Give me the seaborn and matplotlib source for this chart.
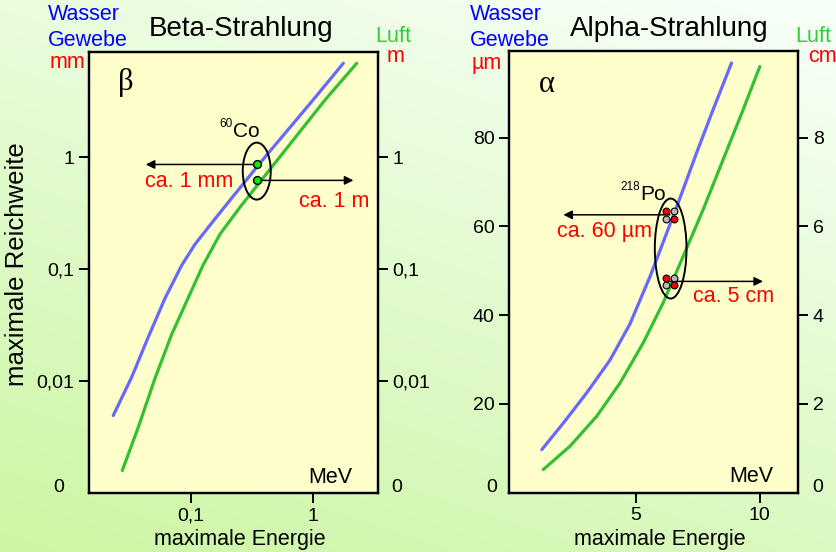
import numpy as np
import matplotlib
matplotlib.use("Agg")
import matplotlib.pyplot as plt
import matplotlib.transforms as mtransforms
from matplotlib.patches import Ellipse
from matplotlib.ticker import NullLocator
import seaborn as sns

# ------------------------------------------------------------------
# DATA
# ------------------------------------------------------------------
# Beta: maximale Reichweite vs. maximale Energie (log-log)
beta_water_energy = [0.02298, 0.03256, 0.04458, 0.06113, 0.08387, 0.1079, 0.1432,
                     0.2092, 0.3810, 0.6510, 1.006, 1.784]
beta_water_range_mm = [0.004923, 0.01083, 0.02470, 0.05480, 0.1081, 0.1667, 0.2465,
                       0.4124, 0.9228, 1.844, 3.236, 6.888]
beta_air_energy = [0.02725, 0.03690, 0.05060, 0.06942, 0.09448, 0.1255, 0.1730,
                   0.2528, 0.3904, 0.6510, 1.262, 2.299]
beta_air_range_m = [0.001587, 0.003871, 0.01055, 0.02611, 0.05480, 0.1081, 0.2048,
                    0.3571, 0.6490, 1.307, 3.236, 6.888]

# Alpha: linear axes
alpha_water_energy = [1.22, 2.09, 3.03, 3.97, 4.77, 5.58, 6.25, 6.78, 7.45, 8.12, 8.86]
alpha_water_range_um = [9.7, 15.7, 22.5, 29.9, 38.0, 48.7, 58.5, 66.3, 76.5, 86.3, 96.8]
alpha_air_energy = [1.28, 2.36, 3.43, 4.37, 5.31, 6.11, 6.91, 7.72, 8.52, 9.33, 10.0]
alpha_air_range_cm = [0.52, 1.05, 1.72, 2.47, 3.38, 4.28, 5.32, 6.38, 7.50, 8.63, 9.60]

# example nuclides
co60_energy = 0.347
co60_water_mm = 0.86
co60_air_m = 0.62
po218_energy = 6.38
po218_water_um = 62.6
po218_air_cm = 4.76

beta_ticks = [0.01, 0.1, 1]
beta_ticklabels = ["0,01", "0,1", "1"]
beta_xticks = [0.1, 1]
beta_xticklabels = ["0,1", "1"]
alpha_left_ticks = [20, 40, 60, 80]
alpha_right_ticks = [2, 4, 6, 8]
alpha_xticks = [5, 10]

# ------------------------------------------------------------------
# STYLE
# ------------------------------------------------------------------
sns.set_style("ticks", {"axes.edgecolor": "black", "text.color": "black",
                        "xtick.color": "black", "ytick.color": "black"})
plt.rcParams["font.family"] = ["Liberation Sans", "DejaVu Sans"]

BLUE_LINE = "#6868ff"
GREEN_LINE = "#33c033"
BLUE_TXT = "#0000ff"
RED_TXT = "#ff0000"
GREEN_TXT = "#33cc33"
PANEL = "#ffffcc"

W, H = 836, 552
fig = plt.figure(figsize=(W / 100, H / 100), dpi=100)


def fx(px):
    return px / W


def fy(py):
    return 1 - py / H


def to_axes(ax, x, y):
    return ax.transAxes.inverted().transform(ax.transData.transform((x, y)))


# gradient background
bg = fig.add_axes([0, 0, 1, 1], zorder=-10)
gx, gy = np.meshgrid(np.linspace(0, 1, 200), np.linspace(1, 0, 200))
t = np.clip(0.7 * gy + 0.35 * gx, 0, 1)
c0 = np.array([0.80, 0.965, 0.64])
c1 = np.array([0.965, 1.0, 0.965])
bg.imshow(c0 + (c1 - c0) * t[..., None], aspect="auto", extent=[0, 1, 0, 1])
bg.axis("off")


def style_axes(ax, ax2):
    ax.set_facecolor(PANEL)
    for a in (ax, ax2):
        for s in a.spines.values():
            s.set_linewidth(1.6)
        a.tick_params(which="major", direction="out", length=7, width=1.4,
                      labelsize=14, pad=3.5, color="black")
        a.yaxis.set_minor_locator(NullLocator())
    ax.xaxis.set_minor_locator(NullLocator())
    ax.tick_params(axis="y", left=True, right=False)
    ax2.tick_params(axis="y", right=True, left=False)
    ax.set_xlabel("")
    ax.set_ylabel("")
    ax2.set_ylabel("")


arrow = dict(arrowstyle="-|>", color="black", lw=1.1, mutation_scale=13, shrinkA=0, shrinkB=0)

# ------------------------------------------------------------------
# BETA PANEL
# ------------------------------------------------------------------
axb = fig.add_axes([fx(89), fy(493), fx(378) - fx(89), (493 - 52) / H])
axb2 = axb.twinx()
for a in (axb, axb2):
    a.set_xscale("log")
    a.set_yscale("log")

sns.lineplot(x=beta_water_energy, y=beta_water_range_mm, ax=axb, color=BLUE_LINE, lw=2.3)
sns.lineplot(x=beta_air_energy, y=beta_air_range_m, ax=axb2, color=GREEN_LINE, lw=2.3)

for a in (axb, axb2):
    a.set_xlim(0.01452, 3.44)
    a.set_ylim(0.001, 8.69)
    a.set_yticks(beta_ticks)
    a.set_yticklabels(beta_ticklabels)
axb.set_xticks(beta_xticks)
axb.set_xticklabels(beta_xticklabels)
style_axes(axb, axb2)

# 60Co
axb.annotate("", xy=(0.0425, co60_water_mm), xytext=(co60_energy, co60_water_mm),
             arrowprops=arrow, zorder=4)
axb2.annotate("", xy=(2.16, co60_air_m), xytext=(co60_energy, co60_air_m),
              arrowprops=arrow, zorder=4)
axb.scatter([co60_energy], [co60_water_mm], s=32, color="#00ee00", edgecolor="black",
            linewidth=1.0, zorder=6)
axb2.scatter([co60_energy], [co60_air_m], s=32, color="#00ee00", edgecolor="black",
             linewidth=1.0, zorder=6)
cx, cy = to_axes(axb2, co60_energy, 0.75)
axb2.add_patch(Ellipse((cx, cy), 28 / 289, 57 / 441, transform=axb2.transAxes,
                       fill=False, ec="black", lw=1.4, zorder=7))
axb.text(0.0419, 0.601, "ca. 1 mm", color=RED_TXT, fontsize=15.5, ha="left", va="center")
axb2.text(0.776, 0.398, "ca. 1 m", color=RED_TXT, fontsize=15.5, ha="left", va="center")
axb2.text(0.221, 1.51, "Co", fontsize=15, ha="left", va="baseline")
axb2.annotate("60", xy=(0.221, 1.51), xytext=(0, 7), textcoords="offset points",
              fontsize=8.5, ha="right", va="baseline")
axb.text(0.128, 0.930, "β", transform=axb.transAxes, fontsize=22,
         family=["Liberation Serif", "DejaVu Serif"], ha="center", va="center")
axb.text(0.91, 0.036, "MeV", transform=axb.transAxes, fontsize=15.5, ha="right", va="center")

# ------------------------------------------------------------------
# ALPHA PANEL
# ------------------------------------------------------------------
axa = fig.add_axes([fx(509), fy(492.7), fx(798.3) - fx(509), (492.7 - 51) / H])
axa2 = axa.twinx()

sns.lineplot(x=alpha_water_energy, y=alpha_water_range_um, ax=axa, color=BLUE_LINE, lw=2.3)
sns.lineplot(x=alpha_air_energy, y=alpha_air_range_cm, ax=axa2, color=GREEN_LINE, lw=2.3)

axa.set_xlim(-0.1, 11.55)
axa.set_ylim(0, 99.5)
axa2.set_ylim(0, 9.95)
axa.set_xticks(alpha_xticks)
axa.set_yticks(alpha_left_ticks)
axa2.set_yticks(alpha_right_ticks)
style_axes(axa, axa2)


def atom_cluster(ax, x, y):
    for dx, dy, c in [(2.7, 2.7, "#b8b8b8"), (-2.7, -2.7, "#b8b8b8"),
                      (-2.7, 2.7, "#ff0000"), (2.7, -2.7, "#ff0000")]:
        tr = mtransforms.offset_copy(ax.transData, fig=fig, x=dx, y=dy, units="points")
        ax.scatter([x], [y], s=24, color=c, edgecolor="black", linewidth=0.8,
                   transform=tr, zorder=6)


axa.annotate("", xy=(2.09, po218_water_um), xytext=(po218_energy, po218_water_um),
             arrowprops=arrow, zorder=4)
axa2.annotate("", xy=(10.13, po218_air_cm), xytext=(po218_energy, po218_air_cm),
              arrowprops=arrow, zorder=4)
atom_cluster(axa, po218_energy, po218_water_um)
atom_cluster(axa2, po218_energy, po218_air_cm)
ex, ey = to_axes(axa, 6.41, 55.0)
axa2.add_patch(Ellipse((ex, ey), 31.7 / 289.3, 100 / 441.7, transform=axa2.transAxes,
                       fill=False, ec="black", lw=1.4, zorder=7))
axa.text(1.82, 58.9, "ca. 60 µm", color=RED_TXT, fontsize=15.5, ha="left", va="center")
axa2.text(7.29, 4.41, "ca. 5 cm", color=RED_TXT, fontsize=15.5, ha="left", va="center")
axa2.text(5.17, 6.60, "Po", fontsize=15, ha="left", va="baseline")
axa2.annotate("218", xy=(5.17, 6.60), xytext=(0, 7), textcoords="offset points",
              fontsize=8.5, ha="right", va="baseline")
axa.text(0.131, 0.925, "α", transform=axa.transAxes, fontsize=22,
         family=["Liberation Serif", "DejaVu Serif"], ha="center", va="center")
axa.text(0.9125, 0.036, "MeV", transform=axa.transAxes, fontsize=15.5, ha="right", va="center")

# ------------------------------------------------------------------
# FIGURE TEXTS
# ------------------------------------------------------------------
fig.text(fx(241), fy(29), "Beta-Strahlung", fontsize=20, ha="center", va="center")
fig.text(fx(669), fy(29), "Alpha-Strahlung", fontsize=20, ha="center", va="center")

for x0, x1 in [(48, 375), (470, 795)]:
    fig.text(fx(x0), fy(15), "Wasser", color=BLUE_TXT, fontsize=15.5, ha="left", va="center")
    fig.text(fx(x0), fy(40), "Gewebe", color=BLUE_TXT, fontsize=15.5, ha="left", va="center")
    fig.text(fx(x1), fy(37), "Luft", color=GREEN_TXT, fontsize=15.5, ha="left", va="center")

fig.text(fx(85), fy(62), "mm", color=RED_TXT, fontsize=15.5, ha="right", va="center")
fig.text(fx(387), fy(57), "m", color=RED_TXT, fontsize=15.5, ha="left", va="center")
fig.text(fx(472), fy(63), "µm", color=RED_TXT, fontsize=15.5, ha="left", va="center")
fig.text(fx(808), fy(56), "cm", color=RED_TXT, fontsize=15.5, ha="left", va="center")

# zero labels at the bottom of the range axes
for px in (59, 397, 492, 818):
    fig.text(fx(px), fy(488), "0", fontsize=14, ha="center", va="center")

fig.text(fx(17), fy(264), "maximale Reichweite", rotation=90, fontsize=18.5,
         ha="center", va="center")
fig.text(fx(240), fy(539), "maximale Energie", fontsize=15.5, ha="center", va="center")
fig.text(fx(660), fy(539), "maximale Energie", fontsize=15.5, ha="center", va="center")

fig.savefig("out.png", dpi=100)
